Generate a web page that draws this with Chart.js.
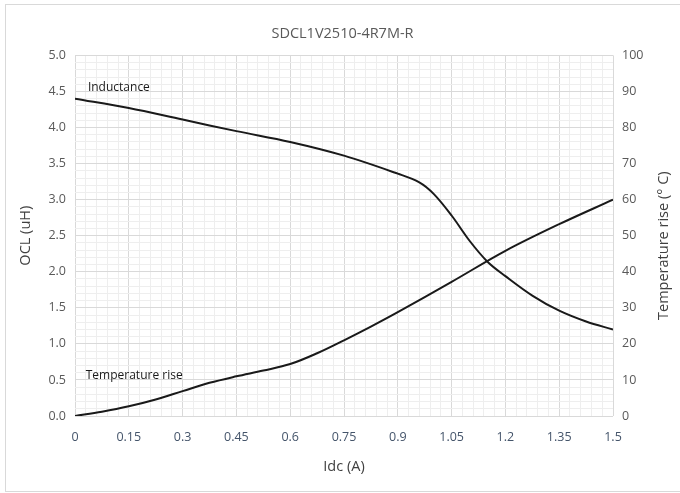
<!DOCTYPE html>
<html>
<head>
<meta charset="utf-8">
<script src="https://cdn.jsdelivr.net/npm/chart.js@4.4.1/dist/chart.umd.min.js"></script>
<style>
  html, body { margin: 0; padding: 0; background: #fff; overflow: hidden; }
  #frame { position: absolute; left: 5px; top: 4px; width: 700px; height: 486px; border: 1px solid #d9d9d9; }
  #wrap { position: absolute; left: 0; top: 0; width: 680px; height: 493px; }
</style>
</head>
<body>
<div id="frame"></div>
<div id="wrap"><canvas id="myChart" width="680" height="493"></canvas></div>
<script>
// dữ liệu
const idcInductance = [0, 0.15, 0.3, 0.45, 0.6, 0.75, 0.9, 0.96, 1.0, 1.05, 1.1, 1.15, 1.2, 1.275, 1.35, 1.425, 1.5];
const inductance    = [4.40, 4.27, 4.11, 3.95, 3.80, 3.61, 3.36, 3.24, 3.08, 2.78, 2.43, 2.14, 1.94, 1.67, 1.46, 1.31, 1.20];

const idcTemp  = [0, 0.075, 0.15, 0.225, 0.3, 0.375, 0.45, 0.525, 0.6, 0.675, 0.75, 0.825, 0.9, 1.05, 1.2, 1.35, 1.5];
const tempRise = [0, 1.2, 2.7, 4.6, 6.9, 9.2, 11.0, 12.6, 14.4, 17.4, 21.0, 24.8, 28.8, 37.2, 45.8, 53.2, 60.0];

const xTickLabels = ['0', '0.15', '0.3', '0.45', '0.6', '0.75', '0.9', '1.05', '1.2', '1.35', '1.5'];
const yTickLabels = ['0.0', '0.5', '1.0', '1.5', '2.0', '2.5', '3.0', '3.5', '4.0', '4.5', '5.0'];
const y2TickLabels = ['0', '10', '20', '30', '40', '50', '60', '70', '80', '90', '100'];

// nhãn chú thích trên đường cong
const noteText = ['Inductance', 'Temperature rise'];
const noteX = [0.036, 0.03];
const noteY = [4.55, 0.56];

const y2Title = 'Temperature rise (° C)';

const FONT = "'Open Sans', 'Noto Sans', sans-serif";
const MAJOR = '#d9d9d9';
const MINOR = '#eeeeee';

const gridColor = c => (c.index % 5 === 0 ? MAJOR : MINOR);

const notesPlugin = {
    id: 'notes',
    afterDatasetsDraw(chart) {
        const { ctx, scales, chartArea } = chart;
        ctx.save();
        ctx.font = '12px ' + FONT;
        ctx.fillStyle = '#1a1a1a';
        ctx.textBaseline = 'middle';
        ctx.textAlign = 'left';
        noteText.forEach((t, i) => {
            ctx.fillText(t, scales.x.getPixelForValue(noteX[i]), scales.y.getPixelForValue(noteY[i]));
        });
        // tiêu đề trục phải, đọc từ dưới lên
        ctx.font = '14.5px ' + FONT;
        ctx.fillStyle = '#404040';
        ctx.textAlign = 'center';
        ctx.translate(scales.y2.right - 16, (chartArea.top + chartArea.bottom) / 2 + 10);
        ctx.rotate(-Math.PI / 2);
        ctx.fillText(y2Title, 0, 0);
        ctx.restore();
    }
};

const ctx = document.getElementById('myChart');
const chart = new Chart(ctx, {
    type: 'line',
    data: {
        datasets: [{
            label: 'Inductance',
            data: idcInductance.map((x, i) => ({ x, y: inductance[i] })),
            yAxisID: 'y',
            borderColor: '#1a1a1a',
            borderWidth: 2,
            pointRadius: 0,
            tension: 0.35
        }, {
            label: 'Temperature rise',
            data: idcTemp.map((x, i) => ({ x, y: tempRise[i] })),
            yAxisID: 'y2',
            borderColor: '#1a1a1a',
            borderWidth: 2,
            pointRadius: 0,
            tension: 0.35
        }]
    },
    options: {
        responsive: false,
        animation: false,
        events: [],
        layout: { padding: { left: 5, right: 0, top: 0, bottom: 0 } },
        plugins: {
            legend: { display: false },
            tooltip: { enabled: false },
            title: {
                display: true,
                text: 'SDCL1V2510-4R7M-R',
                color: '#595959',
                font: { family: FONT, size: 14.5, weight: 'normal' },
                padding: { top: 25, bottom: 13 }
            }
        },
        scales: {
            x: {
                type: 'linear',
                min: 0, max: 1.5,
                border: { display: false },
                grid: { color: gridColor, drawTicks: false, lineWidth: 1 },
                ticks: {
                    stepSize: 0.03,
                    autoSkip: false,
                    maxRotation: 0,
                    padding: 14,
                    color: '#44546a',
                    font: { family: FONT, size: 12.5 },
                    callback: (v, i) => (i % 5 === 0 ? xTickLabels[i / 5] : '')
                },
                title: {
                    display: true, text: 'Idc (A)', color: '#404040',
                    font: { family: FONT, size: 14.5 }, padding: { top: 8, bottom: 17 }
                },
                afterFit: s => { s.height = 77; }
            },
            y: {
                position: 'left',
                min: 0, max: 5,
                border: { display: false },
                grid: { color: gridColor, drawTicks: false },
                ticks: {
                    stepSize: 0.1,
                    autoSkip: false,
                    padding: 9,
                    color: '#595959',
                    font: { family: FONT, size: 12.5 },
                    callback: (v, i) => (i % 5 === 0 ? yTickLabels[i / 5] : '')
                },
                title: {
                    display: true, text: 'OCL (uH)', color: '#404040',
                    font: { family: FONT, size: 14.5 }, padding: { top: 12, bottom: 4 }
                },
                afterFit: s => { s.width = 70; }
            },
            y2: {
                position: 'right',
                min: 0, max: 100,
                border: { display: false },
                grid: { drawOnChartArea: false, drawTicks: false },
                ticks: {
                    stepSize: 2,
                    autoSkip: false,
                    padding: 9,
                    color: '#595959',
                    font: { family: FONT, size: 12.5 },
                    callback: (v, i) => (i % 5 === 0 ? y2TickLabels[i / 5] : '')
                },
                afterFit: s => { s.width = 67; }
            }
        }
    },
    plugins: [notesPlugin]
});
</script>
</body>
</html>
